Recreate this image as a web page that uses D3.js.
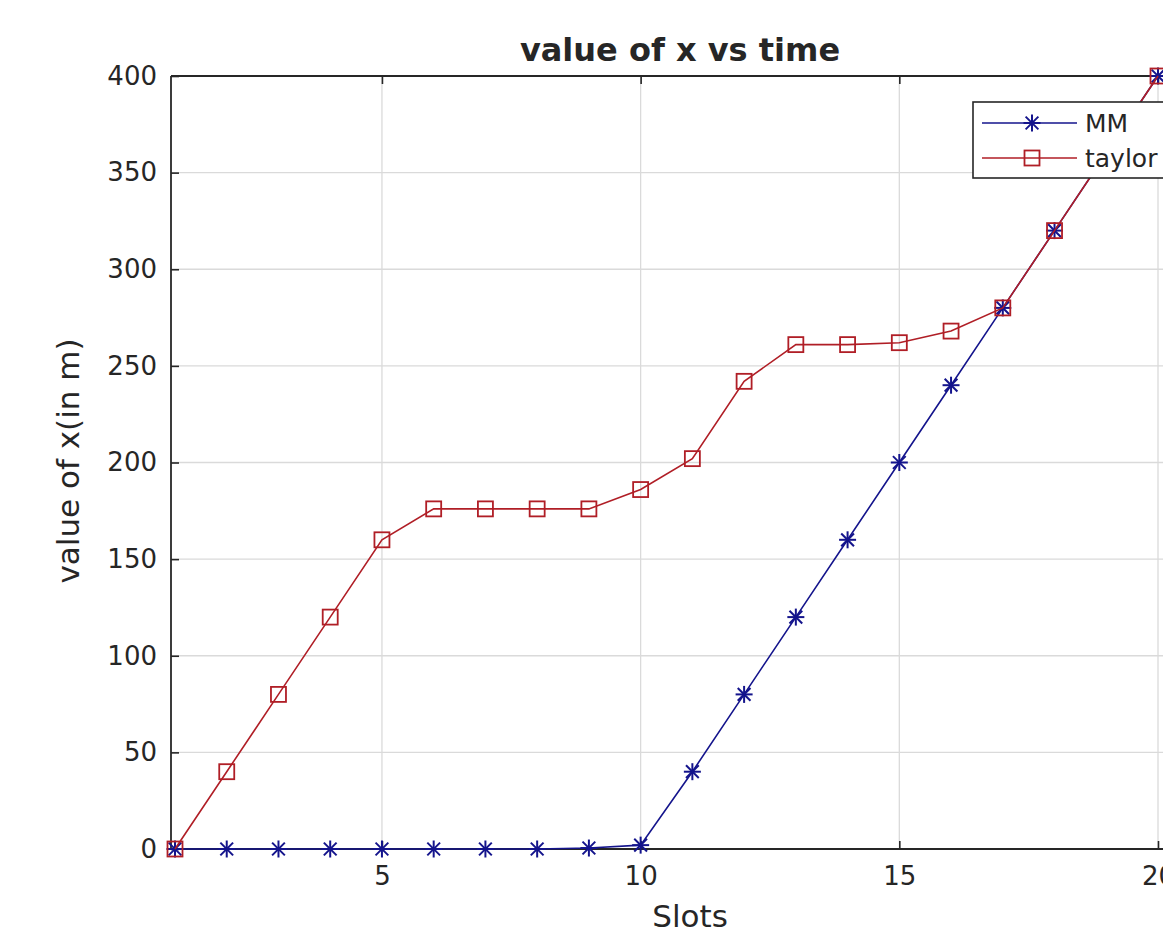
<!DOCTYPE html>
<html>
<head>
<meta charset="utf-8">
<script src="https://cdn.jsdelivr.net/npm/d3@7"></script>
<style>
  body { margin: 0; background: #fff; overflow: hidden; }
  text { font-family: "DejaVu Sans", sans-serif; fill: #262626; }
</style>
</head>
<body>
<div id="chart"></div>
<script>
// data
var slots = [1, 2, 3, 4, 5, 6, 7, 8, 9, 10, 11, 12, 13, 14, 15, 16, 17, 18, 19, 20];
var mmValues = [0, 0, 0, 0, 0, 0, 0, 0, 0.5, 2, 40, 80, 120, 160, 200, 240, 280, 320, 360, 400];
var taylorValues = [0, 40, 80, 120, 160, 176, 176, 176, 176, 186, 202, 242, 261, 261, 262, 268, 280, 320, 360, 400];
var xTicks = [5, 10, 15, 20];
var yTicks = [0, 50, 100, 150, 200, 250, 300, 350, 400];
var legendNames = ["MM", "taylor"];

var width = 1163, height = 935;
var box = {left: 171, top: 76, right: 1190, bottom: 849};

var svg = d3.select("#chart").append("svg")
  .attr("width", width)
  .attr("height", height);

// scales
var x = d3.scaleLinear().domain([1, 20]).range([175, 1158]);
var y = d3.scaleLinear().domain([0, 400]).range([box.bottom, box.top]);

// grid
svg.append("g").selectAll("line").data(xTicks).enter().append("line")
  .attr("x1", d => x(d)).attr("x2", d => x(d))
  .attr("y1", box.top).attr("y2", box.bottom)
  .attr("stroke", "#dadada").attr("stroke-width", 1.3);
svg.append("g").selectAll("line").data(yTicks).enter().append("line")
  .attr("x1", box.left).attr("x2", box.right)
  .attr("y1", d => y(d)).attr("y2", d => y(d))
  .attr("stroke", "#dadada").attr("stroke-width", 1.3);

// axes (ticks inward, MATLAB style)
var xAxis = svg.append("g")
  .attr("transform", "translate(0," + box.bottom + ")")
  .call(d3.axisBottom(x).tickValues(xTicks).tickSizeInner(-8).tickSizeOuter(0).tickPadding(14));
var xTop = svg.append("g")
  .attr("transform", "translate(0," + box.top + ")")
  .call(d3.axisTop(x).tickValues(xTicks).tickSizeInner(-8).tickSizeOuter(0).tickFormat(""));
var yAxis = svg.append("g")
  .attr("transform", "translate(" + box.left + ",0)")
  .call(d3.axisLeft(y).tickValues(yTicks).tickSizeInner(-8).tickSizeOuter(0).tickPadding(14));

[xAxis, xTop, yAxis].forEach(function(g) {
  g.select(".domain").remove();
  g.selectAll(".tick line").attr("stroke", "#262626").attr("stroke-width", 1.6);
  g.selectAll(".tick text").style("font-size", "26px").attr("fill", "#262626");
});
xAxis.selectAll(".tick text").attr("dy", "0.85em");

// frame lines
svg.append("line").attr("x1", box.left).attr("x2", box.right).attr("y1", box.bottom).attr("y2", box.bottom)
  .attr("stroke", "#262626").attr("stroke-width", 1.8);
svg.append("line").attr("x1", box.left).attr("x2", box.right).attr("y1", box.top).attr("y2", box.top)
  .attr("stroke", "#262626").attr("stroke-width", 1.8);
svg.append("line").attr("x1", box.left).attr("x2", box.left).attr("y1", box.top).attr("y2", box.bottom)
  .attr("stroke", "#262626").attr("stroke-width", 1.8);

// series
var line = d3.line().x(d => x(d[0])).y(d => y(d[1]));
var mmData = d3.zip(slots, mmValues);
var taylorData = d3.zip(slots, taylorValues);

function star(g, cx, cy, r, color) {
  var s = g.append("g").attr("transform", "translate(" + cx + "," + cy + ")")
    .attr("stroke", color).attr("stroke-width", 2);
  s.append("line").attr("x1", -r).attr("x2", r).attr("y1", 0).attr("y2", 0);
  s.append("line").attr("x1", 0).attr("x2", 0).attr("y1", -r).attr("y2", r);
  var k = r * 0.75;
  s.append("line").attr("x1", -k).attr("x2", k).attr("y1", -k).attr("y2", k);
  s.append("line").attr("x1", -k).attr("x2", k).attr("y1", k).attr("y2", -k);
}
function square(g, cx, cy, r, color) {
  g.append("rect").attr("x", cx - r).attr("y", cy - r)
    .attr("width", 2 * r).attr("height", 2 * r)
    .attr("fill", "none").attr("stroke", color).attr("stroke-width", 1.8);
}

var blue = "#14148c", red = "#b01e26";

var gMM = svg.append("g");
gMM.append("path").datum(mmData).attr("d", line)
  .attr("fill", "none").attr("stroke", blue).attr("stroke-width", 1.6);
mmData.forEach(d => star(gMM, x(d[0]), y(d[1]), 8.5, blue));

var gT = svg.append("g");
gT.append("path").datum(taylorData).attr("d", line)
  .attr("fill", "none").attr("stroke", red).attr("stroke-width", 1.6);
taylorData.forEach(d => square(gT, x(d[0]), y(d[1]), 7.5, red));

// legend
var lg = svg.append("g").attr("transform", "translate(973,102)");
lg.append("rect").attr("width", 240).attr("height", 76)
  .attr("fill", "#fff").attr("stroke", "#262626").attr("stroke-width", 1.6);
[blue, red].forEach(function(c, i) {
  var cy = 21 + i * 35;
  lg.append("line").attr("x1", 9).attr("x2", 104).attr("y1", cy).attr("y2", cy)
    .attr("stroke", c).attr("stroke-width", 1.6);
  if (i === 0) star(lg, 59, cy, 8.5, c); else square(lg, 59, cy, 7.5, c);
  lg.append("text").attr("x", 112).attr("y", cy).attr("dy", "0.35em")
    .style("font-size", "25px").text(legendNames[i]);
});

// titles
svg.append("text").attr("x", 680).attr("y", 61).attr("text-anchor", "middle")
  .style("font-size", "32px").style("font-weight", "bold").attr("fill", "#000")
  .text("value of x vs time");
svg.append("text").attr("x", 690).attr("y", 927).attr("text-anchor", "middle")
  .style("font-size", "31px").text("Slots");
svg.append("text").attr("transform", "translate(79,461) rotate(-90)")
  .attr("text-anchor", "middle").style("font-size", "31px").text("value of x(in m)");
</script>
</body>
</html>
